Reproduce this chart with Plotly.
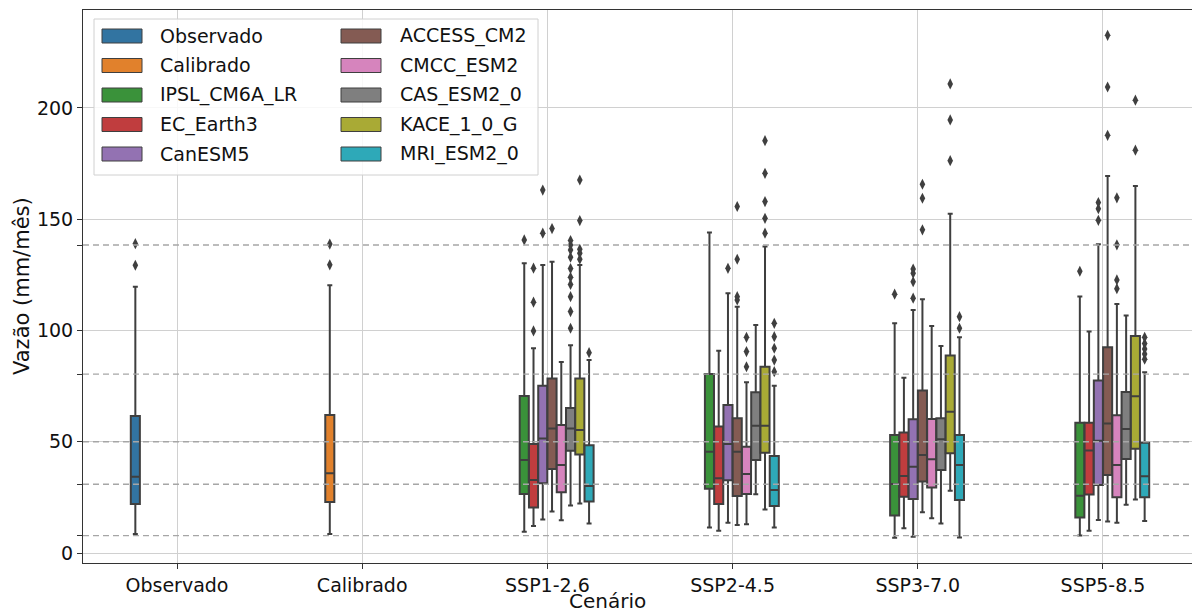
import plotly.graph_objects as go

scenarios = ["Observado", "Calibrado", "SSP1-2.6", "SSP2-4.5", "SSP3-7.0", "SSP5-8.5"]
series = ["Observado", "Calibrado", "IPSL_CM6A_LR", "EC_Earth3", "CanESM5",
          "ACCESS_CM2", "CMCC_ESM2", "CAS_ESM2_0", "KACE_1_0_G", "MRI_ESM2_0"]
colors = ["#3274a1", "#e1812c", "#3a923a", "#c03d3e", "#9372b2",
          "#845b53", "#d684bd", "#7f7f7f", "#a9aa35", "#2ea9b8"]

# Observado / Calibrado stats: q1, median, q3, lower whisker, upper whisker
obs_stats = [22.0, 34.3, 61.6, 8.5, 119.6]
obs_outliers = [129.3, 139.0]
cal_stats = [22.9, 35.8, 62.0, 8.5, 120.3]
cal_outliers = [129.5, 138.8]

# Models (rows, order of series[2:]) x SSP scenarios (columns)
q1_models = [
    [26.5, 28.9, 16.8, 15.9],
    [20.4, 22.0, 25.3, 26.3],
    [31.3, 32.7, 24.3, 30.6],
    [37.8, 25.6, 32.1, 35.0],
    [27.3, 26.5, 29.4, 25.0],
    [46.0, 41.8, 37.3, 42.2],
    [44.3, 45.1, 44.8, 46.9],
    [23.1, 21.1, 23.8, 25.0],
]
median_models = [
    [41.8, 45.5, 31.0, 25.7],
    [32.8, 33.6, 34.6, 46.1],
    [51.5, 49.0, 38.8, 50.4],
    [56.0, 45.5, 44.0, 58.2],
    [39.6, 35.5, 42.1, 39.5],
    [56.0, 57.2, 51.1, 55.7],
    [55.3, 57.2, 63.5, 70.4],
    [30.1, 28.3, 39.6, 34.5],
]
q3_models = [
    [70.6, 80.4, 53.0, 58.5],
    [49.0, 56.8, 54.1, 58.5],
    [75.2, 66.5, 60.1, 77.5],
    [78.4, 60.5, 73.0, 92.5],
    [57.5, 47.8, 60.2, 61.9],
    [65.2, 72.2, 60.5, 72.4],
    [78.4, 83.7, 88.7, 97.5],
    [48.4, 43.6, 53.0, 49.5],
]
low_models = [
    [9.6, 11.5, 6.9, 7.9],
    [12.1, 10.0, 11.1, 10.0],
    [15.1, 13.6, 7.3, 14.8],
    [18.7, 12.6, 18.3, 14.2],
    [14.7, 12.9, 15.6, 13.6],
    [21.4, 26.4, 13.3, 21.7],
    [22.3, 19.6, 28.0, 24.0],
    [13.3, 11.5, 7.0, 14.4],
]
high_models = [
    [130.2, 144.0, 103.2, 115.3],
    [92.0, 90.9, 78.8, 99.5],
    [129.4, 116.7, 109.2, 138.7],
    [130.9, 110.7, 114.0, 169.4],
    [85.8, 76.7, 102.0, 111.9],
    [93.3, 102.5, 93.0, 106.7],
    [129.4, 137.7, 152.4, 164.9],
    [86.7, 75.2, 96.9, 81.2],
]
outliers_models = [
    [[140.7], [], [116.3], [126.6]],
    [[128.0, 112.7, 99.8], [], [], []],
    [[163.1, 143.7], [127.9], [114.5, 121.9, 125.7, 127.6], [149.5, 154.7, 157.5]],
    [[145.8], [113.7, 115.2, 132.0, 155.7], [145.2, 159.4, 165.7], [187.7, 209.4, 232.6]],
    [[], [83.7, 90.5, 96.9], [], [118.8, 122.7, 138.5, 159.6]],
    [[101.0, 108.5, 115.2, 120.7, 123.9, 127.8, 132.9, 136.2, 138.4, 140.4], [], [], []],
    [[132.0, 134.7, 136.5, 149.4, 167.6], [143.7, 150.4, 157.9, 170.6, 185.3],
     [176.3, 194.6, 210.8], [181.0, 203.5]],
    [[90.0], [81.5, 86.7, 92.0, 97.2, 103.2], [101.0, 106.2], [87.1, 89.4, 91.7, 94.1, 96.9]],
]

# reference (dashed) levels
ref_levels = [138.4, 80.4, 50.0, 30.9, 7.8]

y_ticks = [0, 50, 100, 150, 200]

FONT = "DejaVu Sans"
EDGE = "#3f3f3f"
W, H = 1192, 614
ML, MR, MT, MB = 83, 0, 10, 51
PW, PH = W - ML - MR, H - MT - MB

group_width = 0.5
n_hue = len(series)
slot = group_width / n_hue

fig = go.Figure()


def add_box(cat_idx, hue_idx, stats, outs):
    pos = cat_idx + (hue_idx - (n_hue - 1) / 2) * slot
    q1, med, q3, lo, hi = stats
    fig.add_trace(go.Box(
        x=[pos], q1=[q1], median=[med], q3=[q3], lowerfence=[lo], upperfence=[hi],
        width=slot * 0.98, fillcolor=colors[hue_idx],
        line=dict(color=EDGE, width=2), whiskerwidth=0.55,
        boxpoints=False, name=series[hue_idx], showlegend=False,
    ))
    if outs:
        fig.add_trace(go.Scatter(
            x=[pos] * len(outs), y=outs, mode="markers",
            marker=dict(symbol="diamond-tall", size=8, color=EDGE),
            showlegend=False, hoverinfo="y",
        ))


add_box(0, 0, obs_stats, obs_outliers)
add_box(1, 1, cal_stats, cal_outliers)
for m in range(len(series) - 2):
    for s in range(4):
        add_box(2 + s, 2 + m,
                [q1_models[m][s], median_models[m][s], q3_models[m][s],
                 low_models[m][s], high_models[m][s]],
                outliers_models[m][s])

# dashed reference lines
for v in ref_levels:
    fig.add_shape(type="line", xref="paper", x0=0, x1=1, yref="y", y0=v, y1=v,
                  line=dict(color="#a6a6a6", width=1.3, dash="6px,4px"), layer="above")


def px_x(px):
    return (px - ML) / PW


def px_y(py):
    return (H - MB - py) / PH


# manual legend (two columns)
fig.add_shape(type="rect", xref="paper", yref="paper",
              x0=px_x(94), x1=px_x(538), y0=px_y(19), y1=px_y(175),
              fillcolor="rgba(255,255,255,0.85)", line=dict(color="#d0d0d0", width=1),
              layer="above")
col_patch_x = [102, 341]
col_text_x = [158, 398]
for i, name in enumerate(series):
    col, row = divmod(i, 5)
    cy = 36 + 29.5 * row
    fig.add_shape(type="rect", xref="paper", yref="paper",
                  x0=px_x(col_patch_x[col]), x1=px_x(col_patch_x[col] + 40),
                  y0=px_y(cy - 7), y1=px_y(cy + 7),
                  fillcolor=colors[i], line=dict(color=EDGE, width=1), layer="above")
    fig.add_annotation(xref="paper", yref="paper", x=px_x(col_text_x[col]), y=px_y(cy),
                       text=name, showarrow=False, xanchor="left", yanchor="middle",
                       font=dict(family=FONT, size=19, color="#111"))

# axis titles
fig.add_annotation(xref="paper", yref="paper", x=px_x(607), y=px_y(601),
                   text="Cenário", showarrow=False, xanchor="center", yanchor="middle",
                   font=dict(family=FONT, size=20, color="#111"))
fig.add_annotation(xref="paper", yref="paper", x=px_x(22), y=px_y(286),
                   text="Vazão (mm/mês)", textangle=-90, showarrow=False,
                   xanchor="center", yanchor="middle",
                   font=dict(family=FONT, size=21, color="#111"))

fig.update_layout(
    width=W, height=H,
    margin=dict(l=ML, r=MR, t=MT, b=MB, pad=0),
    paper_bgcolor="white", plot_bgcolor="white",
    showlegend=False,
    font=dict(family=FONT, size=19, color="#111"),
    xaxis=dict(
        type="linear", range=[-0.5076, 5.4806],
        tickmode="array", tickvals=list(range(len(scenarios))), ticktext=scenarios,
        showgrid=True, gridcolor="#d0d0d0", gridwidth=1,
        ticks="outside", ticklen=5, tickcolor="#333", tickwidth=1,
        showline=True, linecolor="#333", linewidth=1, mirror=True,
        zeroline=False, tickfont=dict(family=FONT, size=19, color="#111"),
    ),
    yaxis=dict(
        range=[-4.49, 244.0],
        tickmode="array", tickvals=y_ticks,
        showgrid=True, gridcolor="#d0d0d0", gridwidth=1,
        ticks="outside", ticklen=5, tickcolor="#333", tickwidth=1,
        showline=True, linecolor="#333", linewidth=1,
        zeroline=False, tickfont=dict(family=FONT, size=19, color="#111"),
        minor=dict(tickmode="array", tickvals=ref_levels, ticks="outside",
                   ticklen=5, tickcolor="#333", showgrid=False),
    ),
)

fig.write_html("out.html")
